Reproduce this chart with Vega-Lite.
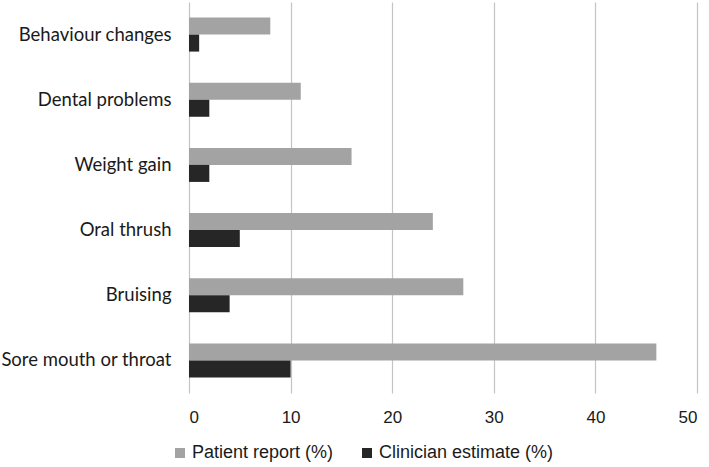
{
  "$schema": "https://vega.github.io/schema/vega-lite/v6.json",
  "autosize": "none",
  "width": 508,
  "height": 391,
  "padding": {"left": 189, "top": 2, "right": 12, "bottom": 74},
  "background": "white",
  "data": {
    "values": [
      {"category": "Behaviour changes", "series": "Patient report (%)", "value": 8},
      {"category": "Behaviour changes", "series": "Clinician estimate (%)", "value": 1},
      {"category": "Dental problems", "series": "Patient report (%)", "value": 11},
      {"category": "Dental problems", "series": "Clinician estimate (%)", "value": 2},
      {"category": "Weight gain", "series": "Patient report (%)", "value": 16},
      {"category": "Weight gain", "series": "Clinician estimate (%)", "value": 2},
      {"category": "Oral thrush", "series": "Patient report (%)", "value": 24},
      {"category": "Oral thrush", "series": "Clinician estimate (%)", "value": 5},
      {"category": "Bruising", "series": "Patient report (%)", "value": 27},
      {"category": "Bruising", "series": "Clinician estimate (%)", "value": 4},
      {"category": "Sore mouth or throat", "series": "Patient report (%)", "value": 46},
      {"category": "Sore mouth or throat", "series": "Clinician estimate (%)", "value": 10}
    ]
  },
  "mark": {"type": "bar"},
  "encoding": {
    "y": {
      "field": "category",
      "type": "nominal",
      "sort": ["Behaviour changes", "Dental problems", "Weight gain", "Oral thrush", "Bruising", "Sore mouth or throat"],
      "scale": {"paddingInner": 0.478, "paddingOuter": 0.239},
      "axis": {
        "title": null,
        "ticks": false,
        "domain": false,
        "labelFont": "Lato",
        "labelFontSize": 18.5,
        "labelColor": "#1a1a1a",
        "labelPadding": 18,
        "labelLimit": 300
      }
    },
    "yOffset": {
      "field": "series",
      "type": "nominal",
      "scale": {"domain": ["Patient report (%)", "Clinician estimate (%)"], "paddingInner": 0, "paddingOuter": 0}
    },
    "x": {
      "field": "value",
      "type": "quantitative",
      "scale": {"domain": [0, 50], "nice": false},
      "axis": {
        "title": null,
        "values": [0, 10, 20, 30, 40, 50],
        "ticks": false,
        "domain": false,
        "grid": true,
        "gridColor": "#c4c4c4",
        "gridWidth": 1.2,
        "labelFont": "Liberation Sans",
        "labelFontSize": 17,
        "labelColor": "#1a1a1a",
        "labelPadding": 16
      }
    },
    "color": {
      "field": "series",
      "type": "nominal",
      "scale": {"domain": ["Patient report (%)", "Clinician estimate (%)"], "range": ["#a3a3a3", "#262626"]},
      "legend": {
        "title": null,
        "orient": "none",
        "direction": "horizontal",
        "legendX": -18,
        "legendY": 442,
        "symbolType": "square",
        "symbolSize": 100,
        "symbolStrokeWidth": 0,
        "labelFont": "Liberation Sans",
        "labelFontSize": 18,
        "labelColor": "#1a1a1a",
        "labelOffset": 3,
        "labelLimit": 0,
        "columnPadding": 24
      }
    }
  },
  "config": {"view": {"stroke": null}}
}
